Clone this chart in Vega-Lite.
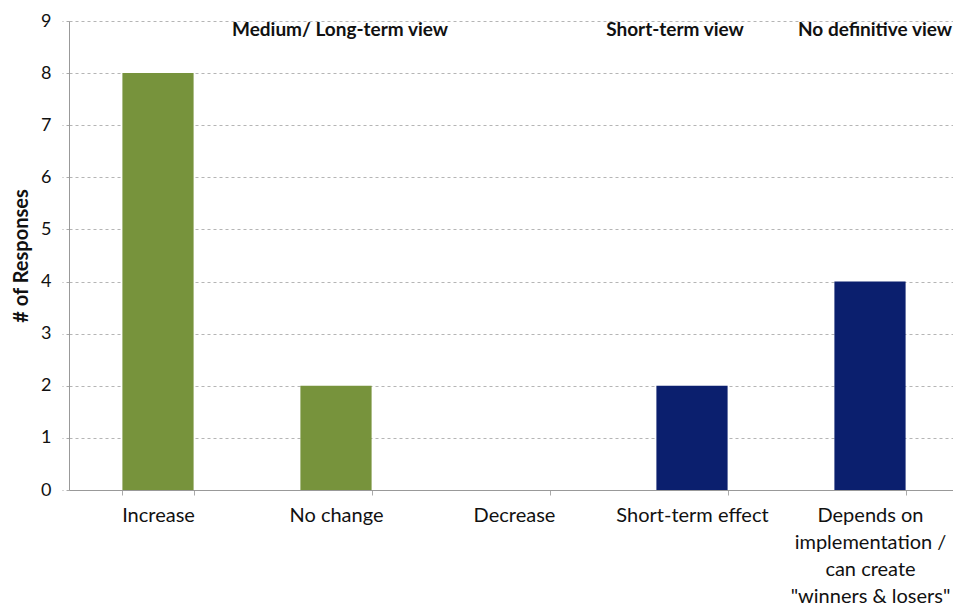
{
  "$schema": "https://vega.github.io/schema/vega-lite/v6.json",
  "width": 884,
  "height": 469,
  "autosize": {"type": "none"},
  "padding": {"left": 69, "top": 21, "right": 0, "bottom": 119},
  "background": "white",
  "config": {"view": {"stroke": null}, "font": "Lato"},
  "layer": [
    {
      "data": {
        "values": [
          {"category": "Increase", "value": 8, "group": "Medium/Long-term"},
          {"category": "No change", "value": 2, "group": "Medium/Long-term"},
          {"category": "Decrease", "value": 0, "group": "Medium/Long-term"},
          {"category": "Short-term effect", "value": 2, "group": "Other"},
          {"category": "Depends on\nimplementation /\ncan create\n\"winners & losers\"", "value": 4, "group": "Other"}
        ]
      },
      "mark": {"type": "bar"},
      "encoding": {
        "x": {
          "field": "category",
          "type": "nominal",
          "sort": null,
          "scale": {"range": [0, 890], "paddingInner": 0.6, "paddingOuter": 0.3},
          "axis": {
            "title": null,
            "labelAngle": 0,
            "labelExpr": "split(datum.label, '\\n')",
            "labelFontSize": 20,
            "labelColor": "#111",
            "labelLineHeight": 27,
            "labelPadding": 10,
            "tickBand": "extent",
            "tickSize": 5,
            "tickColor": "#aaa",
            "domainColor": "#999",
            "labelLimit": 300
          }
        },
        "y": {
          "field": "value",
          "type": "quantitative",
          "scale": {"domain": [0, 9], "nice": false},
          "axis": {
            "values": [0, 1, 2, 3, 4, 5, 6, 7, 8, 9],
            "title": "# of Responses",
            "titleFontSize": 20,
            "titleFontWeight": "bold",
            "titleColor": "#111",
            "titlePadding": 9,
            "labelFontSize": 18,
            "labelColor": "#111",
            "labelPadding": 11,
            "grid": true,
            "gridDash": [3, 3],
            "gridColor": "#b5b5b5",
            "domainColor": "#999",
            "tickColor": "#aaa",
            "tickSize": 7,
            "tickDash": [3, 3]
          }
        },
        "color": {
          "field": "group",
          "type": "nominal",
          "scale": {"domain": ["Medium/Long-term", "Other"], "range": ["#77933C", "#0B1F6E"]},
          "legend": null
        }
      }
    },
    {
      "data": {"values": [{"category": "No change", "pos": 8.83, "note": "Medium/ Long-term view"}]},
      "mark": {"type": "text", "fontWeight": "bold", "fontSize": 19, "color": "#111", "dx": 4},
      "encoding": {
        "x": {"field": "category", "type": "nominal", "sort": null},
        "y": {"field": "pos", "type": "quantitative"},
        "text": {"field": "note"}
      }
    },
    {
      "data": {"values": [{"category": "Short-term effect", "pos": 8.83, "note": "Short-term view"}]},
      "mark": {"type": "text", "fontWeight": "bold", "fontSize": 19, "color": "#111", "dx": -17},
      "encoding": {
        "x": {"field": "category", "type": "nominal", "sort": null},
        "y": {"field": "pos", "type": "quantitative"},
        "text": {"field": "note"}
      }
    },
    {
      "data": {"values": [{"category": "Depends on\nimplementation /\ncan create\n\"winners & losers\"", "pos": 8.83, "note": "No definitive view"}]},
      "mark": {"type": "text", "fontWeight": "bold", "fontSize": 19, "color": "#111", "dx": 5},
      "encoding": {
        "x": {"field": "category", "type": "nominal", "sort": null},
        "y": {"field": "pos", "type": "quantitative"},
        "text": {"field": "note"}
      }
    }
  ]
}
